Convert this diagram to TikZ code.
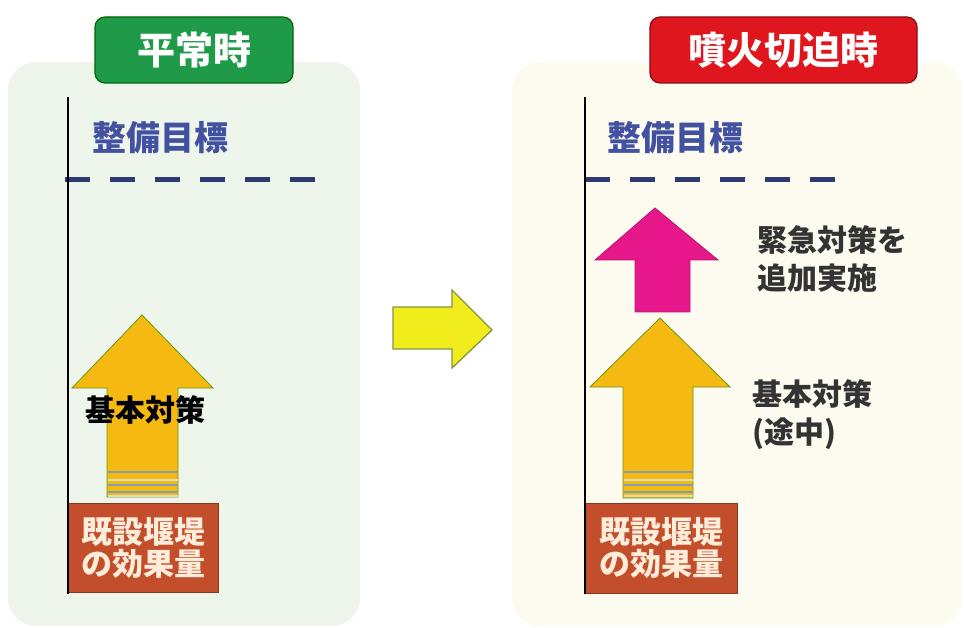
\documentclass[tikz,border=0pt]{standalone}
\usepackage{fontspec}
\newfontfamily\jp{Noto Sans CJK JP}
\definecolor{panelg}{HTML}{EEF5EA}
\definecolor{panelc}{HTML}{FDFAEF}
\definecolor{greenlab}{HTML}{1F9A48}
\definecolor{redlab}{HTML}{E0161E}
\definecolor{navy}{HTML}{2E3B72}
\definecolor{tgtblue}{HTML}{4352A0}
\definecolor{orangeA}{HTML}{F6B912}
\definecolor{brownbox}{HTML}{C24E2C}
\definecolor{magentaA}{HTML}{E6178A}
\definecolor{yellowA}{HTML}{F1EC1C}
\definecolor{textgray}{HTML}{333333}
\definecolor{stripeb}{HTML}{7FA0B0}
\definecolor{stripel}{HTML}{D9DCC6}
\begin{document}
\begin{tikzpicture}[x=1pt,y=-1pt,
  lab/.style={rounded corners=10pt, draw=black!60!green, line width=1.2pt, text=white,
    font=\jp\bfseries\fontsize{38}{40}\selectfont, inner sep=0pt},
  axisline/.style={line width=2pt, black},
  target/.style={text=tgtblue, font=\jp\bfseries\fontsize{34}{36}\selectfont, inner sep=0pt},
  goal/.style={navy, line width=5pt, dash pattern=on 25pt off 20pt},
  uparrow/.style={fill=orangeA, draw=orangeA!60!black!70!green, line width=0.8pt},
  basebox/.style={fill=brownbox, draw=brownbox!70!black, line width=0.8pt, text=white!85!orange,
    font=\jp\bfseries\fontsize{31}{34}\selectfont, align=center, inner sep=0pt},
  desc/.style={text=textgray, font=\jp\bfseries\fontsize{30}{38}\selectfont, align=left, inner sep=0pt}
]
\useasboundingbox (0,0) rectangle (964,628);
\fill[white] (0,0) rectangle (964,628);
% panels
\fill[panelg, rounded corners=28pt] (8,62) rectangle (360,626);
\fill[panelc, rounded corners=28pt] (512,62) rectangle (962,626);

% title labels
\node[lab, fill=greenlab, minimum width=198pt, minimum height=66pt] (normal) at (194,50) {平常時};
\node[lab, fill=redlab, draw=redlab!60!black, minimum width=267pt, minimum height=66pt] (urgent) at (783.5,50) {噴火切迫時};

% ---- left panel ----
\coordinate (ltop) at (68,97);
\coordinate (lbot) at (68,594);
\node[target] (ltarget) at (160,138) {整備目標};
\coordinate (ldashA) at (65,180);
\coordinate (ldashB) at (315,180);
\draw[goal] (ldashA) -- (ldashB);

\path[uparrow] (107,497) -- (107,388) -- (72,388) -- (142,315) -- (213,388) -- (178,388) -- (178,497) -- cycle;
\foreach \yy/\cc in {472/stripeb, 480/stripel, 485/stripeb, 492/stripeb, 496/stripel}
  \draw[\cc, line width=1.8pt] (107.5,\yy) -- (177.5,\yy);
\node[desc, text=black] (lbasic) at (145,410) {基本対策};

\node[basebox, minimum width=150pt, minimum height=89pt, anchor=north west] (lbox) at (68,503) {既設堰堤\\[-2pt]の効果量};
\draw[axisline] (ltop) -- (lbot);

% ---- middle arrow ----
\path[fill=yellowA, draw=black!50!yellow!80!green, line width=1.3pt]
  (393,307) -- (452,307) -- (452,290) -- (492,330) -- (452,368) -- (452,349) -- (393,349) -- cycle;

% ---- right panel ----
\coordinate (rtop) at (585,97);
\coordinate (rbot) at (585,594);
\node[target] (rtarget) at (675,138) {整備目標};
\coordinate (rdashA) at (585,180);
\coordinate (rdashB) at (835,180);
\draw[goal] (rdashA) -- (rdashB);

\path[fill=magentaA, draw=magentaA!80!black, line width=0.8pt]
  (635,312) -- (635,260) -- (595,260) -- (655,208) -- (718,260) -- (690,260) -- (690,312) -- cycle;
\node[desc, anchor=west] (emerg) at (757,259) {緊急対策を\\追加実施};

\path[uparrow] (623,498) -- (623,387) -- (590,387) -- (660,318) -- (730,387) -- (693,387) -- (693,498) -- cycle;
\foreach \yy/\cc in {472/stripeb, 480/stripel, 485/stripeb, 492/stripeb, 496/stripel}
  \draw[\cc, line width=1.8pt] (623.5,\yy) -- (692.5,\yy);
\node[desc, anchor=west] (rbasic) at (752,415) {基本対策\\(途中)};

\node[basebox, minimum width=152pt, minimum height=90pt, anchor=north west] (rbox) at (585,503) {既設堰堤\\[-2pt]の効果量};
\draw[axisline] (rtop) -- (rbot);
\end{tikzpicture}
\end{document}
